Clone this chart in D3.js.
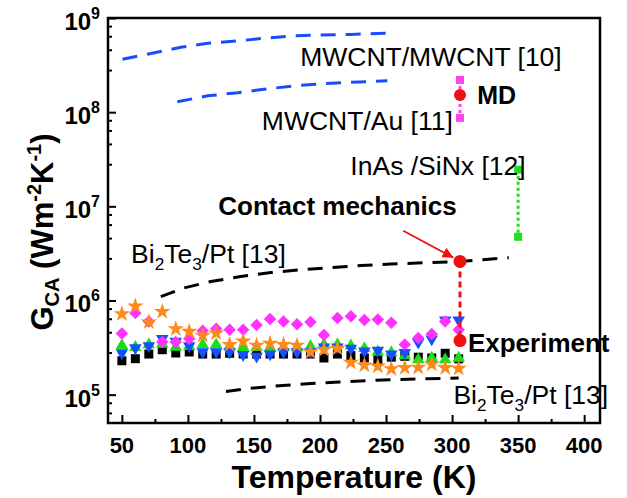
<!DOCTYPE html>
<html><head><meta charset="utf-8">
<script src="https://cdn.jsdelivr.net/npm/d3@7"></script>
<style>body{margin:0;background:#fff}svg{display:block}text{font-family:Arial,"Liberation Sans",sans-serif}</style>
</head><body><svg id="c" width="627" height="498"></svg>
<script>
const temps = [50,60.2,70.4,80.6,90.8,101,111.2,121.4,131.6,141.8,152,162.2,172.4,182.6,192.8,203,213.2,223.4,233.6,243.8,254,264.2,274.4,284.6,294.8,305];
const blackSq = [2.29e5,2.41e5,2.7e5,3.0e5,2.77e5,2.84e5,2.7e5,2.7e5,2.75e5,2.7e5,2.7e5,2.7e5,2.7e5,2.7e5,2.7e5,2.45e5,2.7e5,2.6e5,2.45e5,2.35e5,2.5e5,2.55e5,2.5e5,2.45e5,2.75e5,2.4e5];
const greenUp = [3.33e5,3.18e5,3.39e5,3.45e5,3.2e5,3.25e5,3.39e5,3.39e5,3.25e5,3.18e5,3.18e5,3.18e5,3.18e5,3.18e5,3.25e5,3.4e5,3.4e5,3.3e5,3.1e5,2.85e5,2.8e5,2.6e5,2.35e5,2.45e5,2.35e5,2.45e5];
const blueDown = [2.77e5,3.13e5,3.3e5,3.93e5,3.67e5,3.3e5,2.84e5,2.84e5,2.84e5,2.66e5,2.55e5,2.7e5,2.84e5,2.84e5,2.84e5,3.2e5,3.2e5,3.1e5,2.9e5,2.95e5,2.7e5,2.8e5,3.6e5,3.9e5,6.2e5,6.2e5];
const magentaDia = [4.45e5,7.35e5,6.0e5,3.62e5,3.62e5,3.93e5,4.77e5,5.0e5,4.9e5,4.9e5,5.5e5,6.35e5,6.0e5,5.6e5,5.9e5,4.3e5,6.5e5,6.8e5,6.2e5,6.3e5,5.8e5,3.4e5,4.0e5,4.4e5,6.0e5,4.9e5];
const orangeStar = [7.2e5,8.7e5,5.9e5,7.6e5,5.0e5,4.7e5,4.25e5,4.5e5,3.4e5,3.7e5,3.34e5,3.5e5,3.4e5,3.34e5,2.84e5,3.0e5,3.1e5,2.2e5,2.05e5,2.0e5,1.88e5,1.93e5,1.95e5,2.1e5,1.93e5,1.9e5];

const mwcntMwcntT = [50.5,72,94.7,115,137.7,157.6,180,200.8,223.5,251];
const mwcntMwcntG = [3.65e8,4.2e8,4.88e8,5.4e8,5.7e8,6.1e8,6.45e8,6.6e8,6.7e8,6.9e8];
const mwcntAuT = [92,115,137.7,157.6,180,200.8,223.5,251];
const mwcntAuG = [1.29e8,1.49e8,1.61e8,1.75e8,1.9e8,2.0e8,2.08e8,2.15e8];
const biteUpperT = [79.5,97.2,117.4,140,162.9,185.6,208.3,231,253.8,306,343];
const biteUpperG = [1.1e6,1.36e6,1.59e6,1.8e6,1.98e6,2.12e6,2.24e6,2.35e6,2.44e6,2.6e6,2.85e6];
const biteLowerT = [128.8,150.2,171.7,193.2,214.6,236,256.3,277.8,305];
const biteLowerG = [1.08e5,1.18e5,1.25e5,1.31e5,1.36e5,1.41e5,1.44e5,1.47e5,1.5e5];

const mdT = 306, mdSquares = [2.2e8, 8.7e7], mdCircle = 1.52e8;
const inasT = 350, inasSquares = [2.45e7, 4.75e6];
const contactT = 306, contactCircles = [2.6e6, 3.75e5];

const xTicks = [50,100,150,200,250,300,350,400];
const yTicks = [1e5,1e6,1e7,1e8,1e9];

const pL = 108, pR = 600, pT = 18, pB = 423;
const x = d3.scaleLinear().domain([39.5, 412]).range([pL, pR]);
const y = d3.scaleLog().domain([5e4, 1e9]).range([pB, pT]);

const svg = d3.select('#c');
const defs = svg.append('defs');
defs.append('clipPath').attr('id', 'pc').append('rect')
  .attr('x', pL).attr('y', pT).attr('width', pR-pL).attr('height', pB-pT);

// axes
const xAxis = d3.axisBottom(x).tickValues(xTicks).tickSize(-8).tickFormat('');
const xMinor = d3.axisBottom(x).tickValues(d3.range(75, 400, 50)).tickSize(-4).tickFormat('');
const minorY = [];
for (let e = 4; e < 9; e++) for (let k = 1; k <= 4; k++) { const v = Math.pow(10,e)*(1+1.8*k); if (v > 5e4 && v < 1e9) minorY.push(v); }
const yAxis = d3.axisLeft(y).tickValues(yTicks).tickSize(-8).tickFormat('');
const yMinor = d3.axisLeft(y).tickValues(minorY).tickSize(-4).tickFormat('');
[[xAxis,'x'],[xMinor,'x'],[yAxis,'y'],[yMinor,'y']].forEach(([ax,t])=>{
  const g = svg.append('g').attr('transform', t==='x' ? `translate(0,${pB})` : `translate(${pL},0)`).call(ax);
  g.select('.domain').remove();
  g.selectAll('line').attr('stroke','#000').attr('stroke-width',2);
});
svg.append('rect').attr('x',pL).attr('y',pT).attr('width',pR-pL).attr('height',pB-pT)
  .attr('fill','none').attr('stroke','#000').attr('stroke-width',2.5);

// tick labels
svg.append('g').selectAll('text').data(xTicks).join('text')
  .attr('x', d=>x(d)).attr('y', pB+30).attr('text-anchor','middle')
  .attr('font-size',22).attr('font-weight','bold').text(d=>d);
const yl = svg.append('g').selectAll('text').data(yTicks).join('text')
  .attr('x', 100).attr('y', d=>y(d)+12).attr('text-anchor','end')
  .attr('font-size',24).attr('font-weight','bold');
yl.append('tspan').text('10');
yl.append('tspan').attr('dy',-11).attr('font-size',16).text(d=>Math.round(Math.log10(d)));

// axis titles
svg.append('text').attr('x', (pL+pR)/2).attr('y', 488).attr('text-anchor','middle')
  .attr('font-size',32).attr('font-weight','bold').text('Temperature (K)');
const yt = svg.append('text').attr('transform','translate(53,232) rotate(-90)').attr('text-anchor','middle')
  .attr('font-size',31).attr('font-weight','bold');
yt.append('tspan').text('G');
yt.append('tspan').attr('font-size',20).attr('dy',6).text('CA');
yt.append('tspan').attr('dy',-6).text(' (Wm');
yt.append('tspan').attr('font-size',20).attr('dy',-12).text('-2');
yt.append('tspan').attr('dy',12).text('K');
yt.append('tspan').attr('font-size',20).attr('dy',-12).text('-1');
yt.append('tspan').attr('dy',12).text(')');

const plot = svg.append('g').attr('clip-path', 'url(#pc)');
const line = d3.line().x(d=>x(d[0])).y(d=>y(d[1]));
function dashed(T, G, color, dash) {
  plot.append('path').datum(d3.zip(T,G)).attr('d', line).attr('fill','none')
    .attr('stroke', color).attr('stroke-width', 3).attr('stroke-dasharray', dash);
}
dashed(mwcntMwcntT, mwcntMwcntG, '#1a4cff', '15 10');
dashed(mwcntAuT, mwcntAuG, '#1a4cff', '15 10');
dashed(biteUpperT, biteUpperG, '#000', '15 10');
dashed(biteLowerT, biteLowerG, '#000', '15 10');

// experimental series
const series = [
  {vals: blackSq, sym: d3.symbolSquare, size: 81, color: '#000'},
  {vals: greenUp, sym: d3.symbolTriangle, size: 68, color: '#16e016'},
  {vals: blueDown, sym: d3.symbolTriangle, size: 68, color: '#1550ff', rot: 180},
  {vals: magentaDia, sym: d3.symbolSquare, size: 78, color: '#ff33ff', rot: 45},
  {vals: orangeStar, sym: d3.symbolStar, size: 85, color: '#ff8a1c'}
];
series.forEach(s=>{
  plot.append('g').selectAll('path').data(d3.zip(temps, s.vals)).join('path')
    .attr('d', d3.symbol(s.sym, s.size))
    .attr('transform', d=>`translate(${x(d[0])},${y(d[1])}) rotate(${s.rot||0})`)
    .attr('fill', s.color);
});

// MD
plot.append('line').attr('x1',x(mdT)).attr('x2',x(mdT)).attr('y1',y(mdSquares[0])).attr('y2',y(mdSquares[1]))
  .attr('stroke','#ff44ee').attr('stroke-width',3).attr('stroke-dasharray','3 3');
plot.selectAll('.mds').data(mdSquares).join('rect').attr('x',x(mdT)-4).attr('y',d=>y(d)-4)
  .attr('width',8).attr('height',8).attr('fill','#ff44ee');
plot.append('circle').attr('cx',x(mdT)).attr('cy',y(mdCircle)).attr('r',6).attr('fill','#ee1111');
// InAs
plot.append('line').attr('x1',x(inasT)).attr('x2',x(inasT)).attr('y1',y(inasSquares[0])).attr('y2',y(inasSquares[1]))
  .attr('stroke','#22dd22').attr('stroke-width',3).attr('stroke-dasharray','3 3');
plot.selectAll('.ins').data(inasSquares).join('rect').attr('x',x(inasT)-4).attr('y',d=>y(d)-4)
  .attr('width',8).attr('height',8).attr('fill','#22dd22');
// Contact mechanics
plot.append('line').attr('x1',x(contactT)).attr('x2',x(contactT)).attr('y1',y(contactCircles[0])).attr('y2',y(contactCircles[1]))
  .attr('stroke','#ee1111').attr('stroke-width',3).attr('stroke-dasharray','6 4');
plot.selectAll('.cm').data(contactCircles).join('circle').attr('cx',x(contactT)).attr('cy',d=>y(d))
  .attr('r',6.5).attr('fill','#ee1111');

// arrow
defs.append('marker').attr('id','ah').attr('viewBox','0 0 10 10').attr('refX',10).attr('refY',5)
  .attr('markerWidth',6).attr('markerHeight',6).attr('orient','auto')
  .append('path').attr('d','M0,0L10,5L0,10z').attr('fill','#ee1111');
svg.append('line').attr('x1',x(263)).attr('y1',y(5.5e6)).attr('x2',x(301)).attr('y2',y(2.85e6))
  .attr('stroke','#ee1111').attr('stroke-width',1.8).attr('marker-end','url(#ah)');

// labels (data coordinates); parts: text or [subscript]
function label(T, G, parts, bold, size) {
  const sz = size || 26.5;
  const t = svg.append('text').attr('x', x(T)).attr('y', y(G)).attr('font-size', sz)
    .attr('font-weight', bold ? 'bold' : 'normal');
  let shift = 0;
  parts.forEach(p => {
    const isSub = Array.isArray(p);
    const txt = isSub ? p[0] : p;
    const target = isSub ? 7 : 0;
    const ts = t.append('tspan').text(txt).attr('dy', target - shift);
    if (isSub) ts.attr('font-size', sz*0.65);
    shift = target;
  });
}
const biLabel = ['Bi', ['2'], 'Te', ['3'], '/Pt [13]'];
label(185, 3.1e8, ['MWCNT/MWCNT [10]']);
label(156, 6.5e7, ['MWCNT/Au [11]']);
label(319, 1.22e8, ['MD'], true, 25);
label(223, 2.15e7, ['InAs /SiNx [12]']);
label(123, 8.1e6, ['Contact mechanics'], true, 26);
label(57, 2.5e6, biLabel);
label(312, 2.84e5, ['Experiment'], true, 26);
label(301, 8.0e4, biLabel);
</script></body></html>
